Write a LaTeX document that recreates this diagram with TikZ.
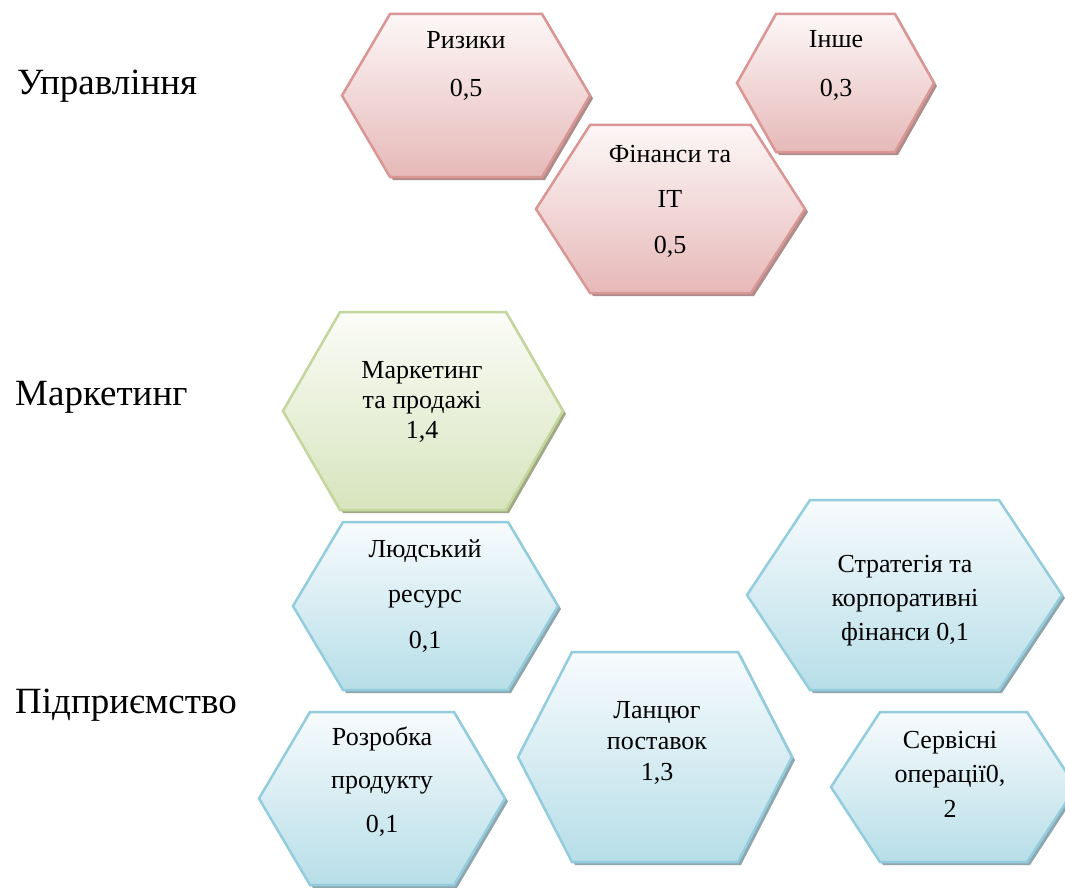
\documentclass[tikz,border=0pt]{standalone}
\usepackage{fontspec}
\setmainfont{Liberation Serif}

\definecolor{mgmtline}{HTML}{D99694}
\definecolor{mgmtfill}{HTML}{E6B9B8}
\definecolor{mgmttop}{HTML}{FDF7F7}
\definecolor{mgmtshadow}{HTML}{AD8D8C}
\definecolor{mktline}{HTML}{C3D69B}
\definecolor{mktfill}{HTML}{D7E4BD}
\definecolor{mkttop}{HTML}{FBFCF7}
\definecolor{mktshadow}{HTML}{A0A887}
\definecolor{entline}{HTML}{93CDDD}
\definecolor{entfill}{HTML}{B7DEE8}
\definecolor{enttop}{HTML}{F7FBFD}
\definecolor{entshadow}{HTML}{8FA6AD}

% hexagon outline: left, right, top, bottom, inset
\newcommand{\hexpath}[5]{(#1,{(#3+#4)/2}) -- ({#1+#5},#3) -- ({#2-#5},#3) -- (#2,{(#3+#4)/2}) -- ({#2-#5},#4) -- ({#1+#5},#4) -- cycle}
% shadowed, shaded hexagon: left, right, top, bottom, inset, colour group
\newcommand{\hexa}[6]{%
  \fill[#6shadow] \hexpath{#1+3}{#2+3}{#3+3}{#4+3}{#5};
  \shadedraw[top color=#6top, bottom color=#6fill, draw=#6line, line width=2.5] \hexpath{#1}{#2}{#3}{#4}{#5};
}

\tikzset{
  grouplabel/.style={anchor=base west, inner sep=0pt, font=\fontsize{37}{44}\selectfont},
  hextext/.style={anchor=base, align=center, inner sep=0pt, font=\fontsize{26}{#1}\selectfont}
}

\begin{document}
\begin{tikzpicture}[x=1pt, y=-1pt]

    \useasboundingbox (0,0) rectangle (1065,888);
    \fill[white] (0,0) rectangle (1065,888);
    \clip (0,0) rectangle (1065,888);

    % Group labels
    \node[grouplabel] (upr) at (17,95) {Управління};
    \node[grouplabel] (mark) at (15,405) {Маркетинг};
    \node[grouplabel] (pidpr) at (15,713) {Підприємство};

    % Management hexagons
    \hexa{342}{590}{14}{177}{48}{mgmt}
    \hexa{737}{934}{14}{152}{39}{mgmt}
    \hexa{536}{805}{125}{293}{54}{mgmt}
    \node[hextext=48] (riz) at (466,97) {Ризики\\0,5};
    \node[hextext=49] (inshe) at (836,97) {Інше\\0,3};
    \node[hextext=45.5] (fin) at (670,253) {Фінанси та\\IT\\0,5};

    % Marketing hexagon
    \hexa{283}{563}{312}{510}{57}{mkt}
    \node[hextext=30] (mkt) at (422,438) {Маркетинг\\та продажі\\1,4};

    % Enterprise hexagons
    \hexa{293}{558}{522}{690}{50}{ent}
    \hexa{747}{1062}{500}{690}{63}{ent}
    \hexa{518}{792}{652}{862}{54}{ent}
    \hexa{259}{505}{712}{885}{51}{ent}
    \hexa{831}{1076}{712}{862}{49}{ent}
    \node[hextext=45.5] (hr) at (425,648) {Людський\\ресурс\\0,1};
    \node[hextext=34] (strat) at (905,640) {Стратегія та\\корпоративні\\фінанси 0,1};
    \node[hextext=31] (chain) at (657,780) {Ланцюг\\поставок\\1,3};
    \node[hextext=43.5] (dev) at (382,832) {Розробка\\продукту\\0,1};
    \node[hextext=34.5] (serv) at (950,817) {Сервісні\\операції0,\\2};

\end{tikzpicture}
\end{document}
